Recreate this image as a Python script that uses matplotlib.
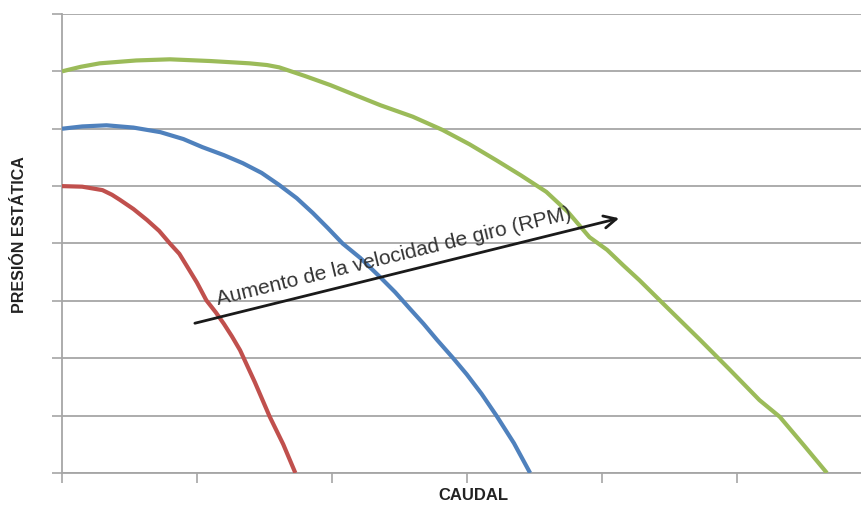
import matplotlib.pyplot as plt
import matplotlib as mpl

mpl.rcParams['font.family'] = ['Liberation Sans Narrow', 'Liberation Sans', 'DejaVu Sans']

# curvas (caudal, presion)
rojo_x = [0, 0.15, 0.30, 0.37, 0.43, 0.53, 0.63, 0.72, 0.80, 0.87, 0.93, 1.0, 1.07,
          1.14, 1.20, 1.26, 1.32, 1.43, 1.54, 1.64, 1.73]
rojo_y = [5.0, 4.99, 4.93, 4.85, 4.76, 4.60, 4.41, 4.22, 4.0, 3.82, 3.59, 3.32, 3.01,
          2.80, 2.60, 2.38, 2.14, 1.58, 0.98, 0.50, 0.0]

azul_x = [0, 0.15, 0.33, 0.53, 0.73, 0.90, 1.04, 1.20, 1.34, 1.48, 1.61, 1.74, 1.86,
          1.97, 2.08, 2.21, 2.36, 2.47, 2.58, 2.68, 2.78, 2.90, 3.0, 3.11, 3.22,
          3.35, 3.47]
azul_y = [6.0, 6.04, 6.06, 6.02, 5.94, 5.82, 5.68, 5.54, 5.40, 5.23, 5.02, 4.79, 4.53,
          4.27, 4.0, 3.75, 3.41, 3.15, 2.86, 2.60, 2.32, 2.0, 1.72, 1.38, 1.0,
          0.52, 0.0]

verde_x = [0, 0.14, 0.28, 0.55, 0.80, 1.10, 1.39, 1.52, 1.61, 1.80, 1.99, 2.18, 2.36,
           2.60, 2.82, 3.02, 3.22, 3.40, 3.59, 3.75, 3.91, 4.04, 4.16, 4.28, 4.50,
           4.73, 4.95, 5.17, 5.32, 5.50, 5.67]
verde_y = [7.0, 7.08, 7.14, 7.19, 7.21, 7.18, 7.14, 7.11, 7.07, 6.92, 6.76, 6.58, 6.41,
           6.21, 5.98, 5.73, 5.45, 5.19, 4.90, 4.55, 4.11, 3.89, 3.62, 3.36, 2.85,
           2.32, 1.80, 1.27, 0.98, 0.48, 0.0]

flecha_ini = (0.985, 2.61)
flecha_fin = (4.13, 4.44)
texto_flecha = "Aumento de la velocidad de giro (RPM)"

fig = plt.figure(figsize=(8.62, 5.05), dpi=100)
ax = fig.add_axes([0.0719, 0.0634, 0.9281, 0.9089])

gris = '#a6a6a6'
ax.plot(rojo_x, rojo_y, color='#c0504d', lw=3, solid_capstyle='butt',
        solid_joinstyle='round', zorder=3)
ax.plot(azul_x, azul_y, color='#4f81bd', lw=3, solid_capstyle='butt',
        solid_joinstyle='round', zorder=3)
ax.plot(verde_x, verde_y, color='#9bbb59', lw=3, solid_capstyle='butt',
        solid_joinstyle='round', zorder=3)

ax.set_xlim(0, 5.93)
ax.set_ylim(0, 8)
ax.set_xticks(range(0, 6))
ax.set_yticks(range(0, 9))
ax.set_xticklabels([])
ax.set_yticklabels([])
ax.grid(axis='y', color=gris, lw=1.3)
ax.tick_params(axis='both', color=gris, length=7, width=1.2)
for s in ['top', 'right']:
    ax.spines[s].set_visible(False)
for s in ['left', 'bottom']:
    ax.spines[s].set_color(gris)
    ax.spines[s].set_linewidth(1.3)

ax.annotate('', xy=flecha_fin, xytext=flecha_ini,
            arrowprops=dict(arrowstyle='->', lw=2, color='#1a1a1a', mutation_scale=22,
                            shrinkA=0, shrinkB=0), zorder=5)
ax.text(2.47, 3.68, texto_flecha, rotation=13.7, rotation_mode='anchor',
        ha='center', va='baseline', fontsize=15, color='#333333', zorder=6)

fig.text(0.023, 0.535, 'PRESIÓN ESTÁTICA', rotation=90, ha='center', va='center',
         fontsize=11.5, fontweight='bold', color='#222222')
fig.text(0.549, 0.018, 'CAUDAL', ha='center', va='center',
         fontsize=12, fontweight='bold', color='#222222')

fig.savefig('out.png', dpi=100)
